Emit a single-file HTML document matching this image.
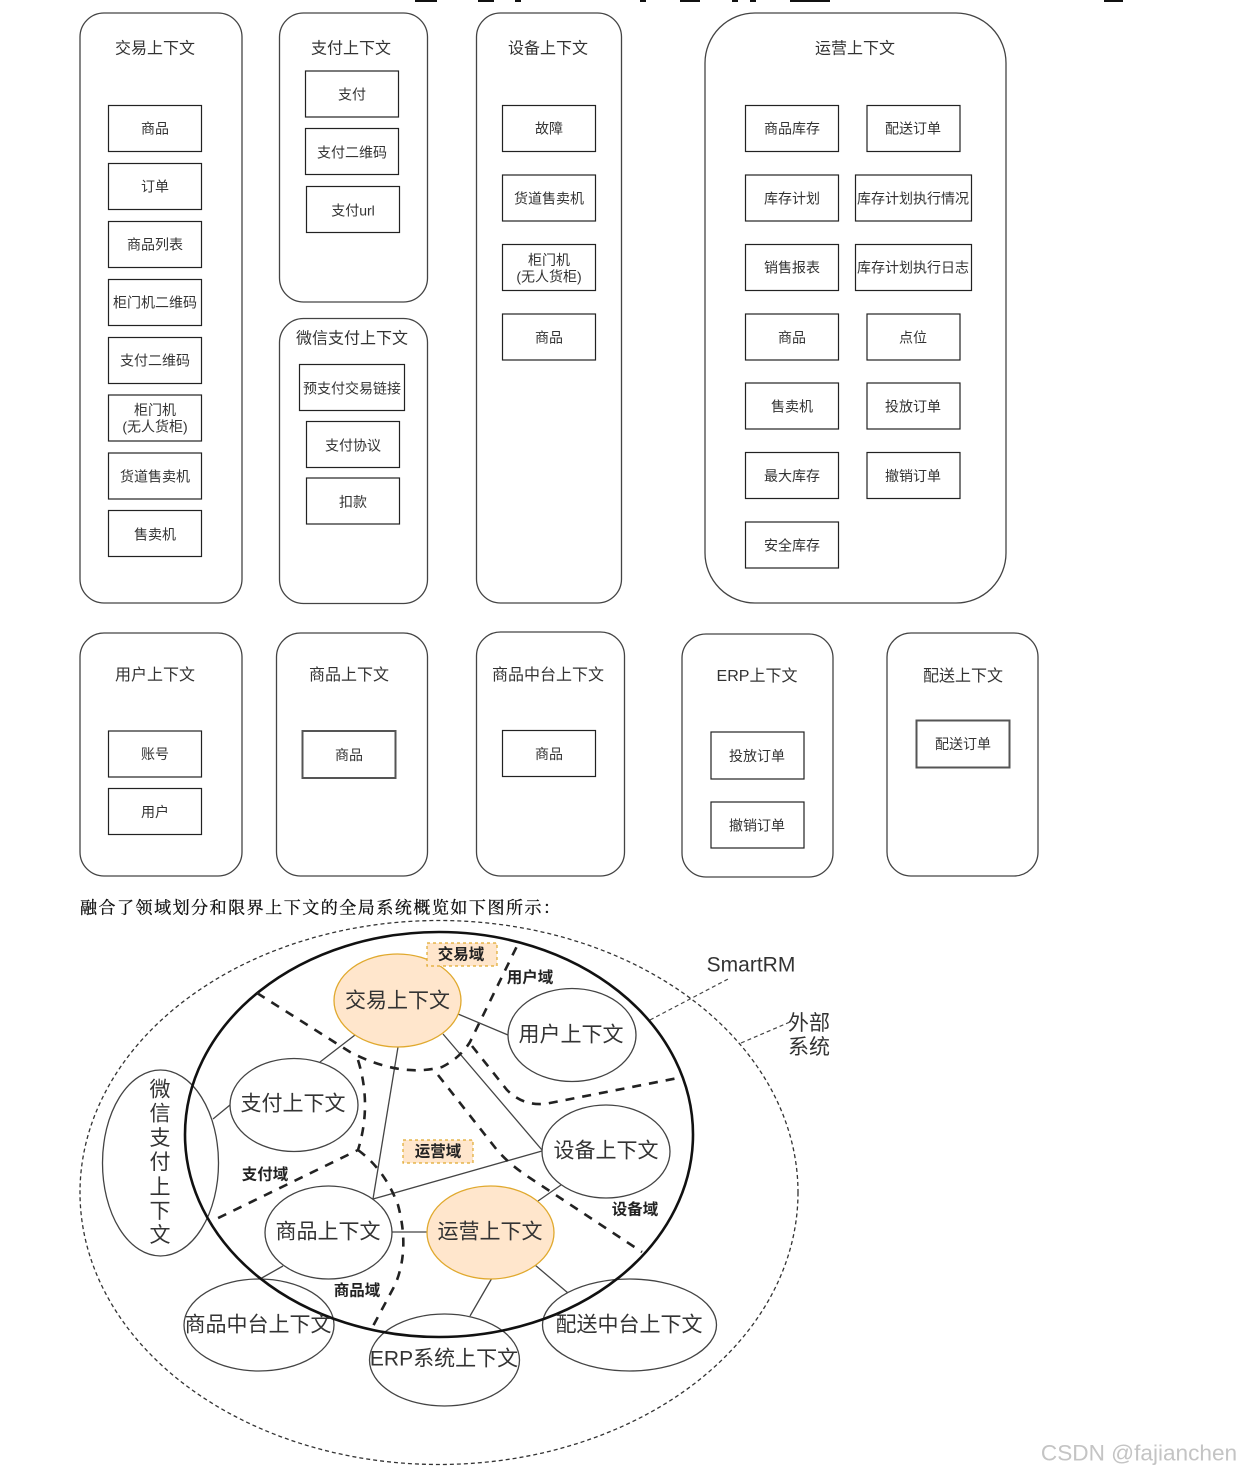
<!DOCTYPE html>
<html><head><meta charset="utf-8"><style>
html,body{margin:0;padding:0;background:#fff}
svg{display:block;filter:blur(0.3px)}
text{font-family:"Liberation Sans","Noto Sans CJK SC",sans-serif;text-anchor:middle;dominant-baseline:central;fill:#333}
.c{fill:none;stroke:#444;stroke-width:1.3}
.b{fill:none;stroke:#222;stroke-width:1.2}
.b2{fill:none;stroke:#555;stroke-width:2}
.t{font-size:16px}
.s{font-size:14px}
.e{fill:none;stroke:#444;stroke-width:1.3}
.o{fill:#ffe6cc;stroke:#e0a92e;stroke-width:1.3}
.l{stroke:#444;stroke-width:1.3;fill:none}
.d{stroke:#222;stroke-width:2.6;stroke-dasharray:9 8;fill:none}
.big{font-size:21px}
.lb{font-size:15.5px;font-weight:bold;fill:#222}
.y{fill:#ffe6cc;stroke:#e0a92e;stroke-width:1.2;stroke-dasharray:3 3}
</style></head><body>
<svg width="1240" height="1472" viewBox="0 0 1240 1472" xmlns="http://www.w3.org/2000/svg">
<g fill="#111"><rect x="415" y="0" width="22" height="2"/><rect x="478" y="0" width="16" height="2"/><rect x="515" y="0" width="6" height="2"/><rect x="640" y="0" width="6" height="2"/><rect x="680" y="0" width="20" height="2"/><rect x="732" y="0" width="6" height="2"/><rect x="750" y="0" width="6" height="2"/><rect x="790" y="0" width="40" height="2"/><rect x="1104" y="0" width="19" height="2"/></g>

<!-- row 1 -->
<rect class="c" x="80" y="13" width="162" height="590" rx="24"/>
<text class="t" x="155" y="49">交易上下文</text>
<g class="b">
<rect x="108.5" y="105.5" width="93" height="46"/><rect x="108.5" y="163.5" width="93" height="46"/><rect x="108.5" y="221.5" width="93" height="46"/><rect x="108.5" y="279.5" width="93" height="46"/><rect x="108.5" y="337.5" width="93" height="46"/><rect x="108.5" y="395" width="93" height="46"/><rect x="108.5" y="453" width="93" height="46"/><rect x="108.5" y="510.5" width="93" height="46"/>
</g>
<g class="s">
<text x="155" y="128.5">商品</text><text x="155" y="186.5">订单</text><text x="155" y="244.5">商品列表</text><text x="155" y="302.5">柜门机二维码</text><text x="155" y="360.5">支付二维码</text><text x="155" y="410">柜门机</text><text x="155" y="426.5">(无人货柜)</text><text x="155" y="476.5">货道售卖机</text><text x="155" y="534.5">售卖机</text>
</g>

<rect class="c" x="279.5" y="13" width="148" height="289" rx="24"/>
<text class="t" x="351" y="49">支付上下文</text>
<g class="b"><rect x="305.5" y="71" width="93" height="46"/><rect x="305.5" y="128.5" width="93" height="46"/><rect x="306.5" y="186.5" width="93" height="46"/></g>
<g class="s"><text x="352" y="94.5">支付</text><text x="352" y="152.5">支付二维码</text><text x="353" y="210.5">支付url</text></g>

<rect class="c" x="279.5" y="318.5" width="148" height="285" rx="24"/>
<text class="t" x="352" y="339">微信支付上下文</text>
<g class="b"><rect x="299.5" y="364.5" width="105" height="46"/><rect x="306.5" y="421.5" width="93" height="46"/><rect x="306.5" y="478" width="93" height="46"/></g>
<g class="s"><text x="352" y="388.5">预支付交易链接</text><text x="353" y="445.5">支付协议</text><text x="353" y="502">扣款</text></g>

<rect class="c" x="476.5" y="13" width="145" height="590" rx="24"/>
<text class="t" x="548" y="49">设备上下文</text>
<g class="b"><rect x="502.5" y="105.5" width="93" height="46"/><rect x="502.5" y="175" width="93" height="46"/><rect x="502.5" y="244.5" width="93" height="46"/><rect x="502.5" y="314" width="93" height="46"/></g>
<g class="s"><text x="549" y="128.5">故障</text><text x="549" y="198.5">货道售卖机</text><text x="549" y="260">柜门机</text><text x="549" y="276.5">(无人货柜)</text><text x="549" y="337.5">商品</text></g>

<rect class="c" x="705" y="13" width="301" height="590" rx="50"/>
<text class="t" x="855" y="49">运营上下文</text>
<g class="b">
<rect x="745.5" y="105.5" width="93" height="46"/><rect x="745.5" y="175" width="93" height="46"/><rect x="745.5" y="244.5" width="93" height="46"/><rect x="745.5" y="314" width="93" height="46"/><rect x="745.5" y="383" width="93" height="46"/><rect x="745.5" y="452.5" width="93" height="46"/><rect x="745.5" y="522" width="93" height="46"/>
<rect x="867" y="105.5" width="93" height="46"/><rect x="855.5" y="175" width="116" height="46"/><rect x="855.5" y="244.5" width="116" height="46"/><rect x="867" y="314" width="93" height="46"/><rect x="867" y="383" width="93" height="46"/><rect x="867" y="452.5" width="93" height="46"/>
</g>
<g class="s">
<text x="792" y="128.5">商品库存</text><text x="792" y="198.5">库存计划</text><text x="792" y="267.5">销售报表</text><text x="792" y="337.5">商品</text><text x="792" y="406.5">售卖机</text><text x="792" y="476">最大库存</text><text x="792" y="545.5">安全库存</text>
<text x="913" y="128.5">配送订单</text><text x="913" y="198.5">库存计划执行情况</text><text x="913" y="267.5">库存计划执行日志</text><text x="913" y="337.5">点位</text><text x="913" y="406.5">投放订单</text><text x="913" y="476">撤销订单</text>
</g>

<!-- row 2 -->
<rect class="c" x="80" y="633" width="162" height="243" rx="24"/>
<text class="t" x="155" y="675.5">用户上下文</text>
<g class="b"><rect x="108.5" y="731" width="93" height="46"/><rect x="108.5" y="788.5" width="93" height="46"/></g>
<g class="s"><text x="155" y="754">账号</text><text x="155" y="812">用户</text></g>

<rect class="c" x="276.5" y="633" width="151" height="243" rx="24"/>
<text class="t" x="349" y="675.5">商品上下文</text>
<rect class="b2" x="302.5" y="731" width="93" height="47"/>
<text class="s" x="349" y="755">商品</text>

<rect class="c" x="476.5" y="632" width="148" height="244" rx="24"/>
<text class="t" x="548" y="675.5">商品中台上下文</text>
<rect class="b" x="502.5" y="730.5" width="93" height="46"/>
<text class="s" x="549" y="754">商品</text>

<rect class="c" x="682" y="634" width="151" height="243" rx="24"/>
<text class="t" x="757" y="676.5">ERP上下文</text>
<g class="b"><rect x="711" y="732" width="93" height="47"/><rect x="711" y="802" width="93" height="46"/></g>
<g class="s"><text x="757" y="756">投放订单</text><text x="757" y="825.5">撤销订单</text></g>

<rect class="c" x="887" y="633" width="151" height="243" rx="24"/>
<text class="t" x="963" y="676.5">配送上下文</text>
<rect class="b2" x="916.5" y="720.5" width="93" height="47"/>
<text class="s" x="963" y="744">配送订单</text>

<text x="80" y="908" style="text-anchor:start;font-family:'Liberation Serif','Noto Serif CJK SC',serif;font-size:17px;letter-spacing:1.52px;fill:#111;stroke:#111;stroke-width:.3">融合了领域划分和限界上下文的全局系统概览如下图所示：</text>

<!-- overview -->
<ellipse cx="439" cy="1192.5" rx="359" ry="272" fill="none" stroke="#333" stroke-width="1.3" stroke-dasharray="4 3"/>
<g class="l">
<line x1="320" y1="1062" x2="355" y2="1035"/><line x1="213" y1="1119" x2="230" y2="1105"/><line x1="458" y1="1014" x2="508" y2="1035"/><line x1="443" y1="1034" x2="542" y2="1150"/><line x1="398" y1="1047" x2="373" y2="1199"/><line x1="373" y1="1199" x2="542" y2="1151"/><line x1="392" y1="1232" x2="427" y2="1232"/><line x1="561" y1="1185" x2="538" y2="1201"/><line x1="283" y1="1266" x2="260" y2="1279"/><line x1="492" y1="1278" x2="470" y2="1316"/><line x1="535" y1="1265" x2="568" y2="1293"/>
</g>
<g fill="none" stroke="#444" stroke-width="1.2" stroke-dasharray="4 3"><line x1="650" y1="1020" x2="730" y2="978"/><line x1="741" y1="1043" x2="790" y2="1022"/></g>
<ellipse class="o" cx="397.5" cy="1000.5" rx="63.5" ry="46.5"/>
<ellipse class="o" cx="490.5" cy="1232.5" rx="63.5" ry="46.5"/>
<g class="e">
<ellipse cx="572" cy="1035" rx="64" ry="46.5"/><ellipse cx="294" cy="1105" rx="64" ry="46.5"/><ellipse cx="606" cy="1151.5" rx="64" ry="46.5"/><ellipse cx="160.5" cy="1163" rx="58" ry="93"/><ellipse cx="328.5" cy="1232.5" rx="63.5" ry="46.5"/><ellipse cx="259" cy="1325" rx="75" ry="46"/><ellipse cx="444.5" cy="1360" rx="75" ry="46"/><ellipse cx="629.5" cy="1325" rx="87" ry="46"/>
</g>
<ellipse cx="439" cy="1134.5" rx="254" ry="202.5" fill="none" stroke="#111" stroke-width="2.6"/>
<g class="d">
<path d="M257 993 L350 1052 Q400 1078 442 1067 Q460 1058 470 1042 L518 944"/>
<path d="M472 1046 L507 1090 Q525 1108 550 1103 L678 1078"/>
<path d="M438 1075 L497 1150 Q510 1165 530 1178 L642 1252"/>
<path d="M358 1060 Q372 1105 358 1150 L210 1222"/>
<path d="M358 1150 Q385 1170 398 1205 Q410 1250 395 1285 L372 1328"/>
</g>
<rect class="y" x="427" y="943" width="70" height="23"/>
<rect class="y" x="403" y="1140" width="70" height="23"/>
<g class="lb"><text class="lb" x="461" y="955">交易域</text><text class="lb" x="438" y="1152">运营域</text><text class="lb" x="530" y="978">用户域</text><text class="lb" x="265" y="1175">支付域</text><text class="lb" x="635" y="1210">设备域</text><text class="lb" x="357" y="1291">商品域</text></g>
<g class="big">
<text class="big" x="397.5" y="1001">交易上下文</text><text class="big" x="571" y="1035">用户上下文</text><text class="big" x="293" y="1104">支付上下文</text><text class="big" x="606" y="1151">设备上下文</text><text class="big" x="328" y="1232">商品上下文</text><text class="big" x="490" y="1232">运营上下文</text><text class="big" x="258" y="1325">商品中台上下文</text><text class="big" x="444" y="1359">ERP系统上下文</text><text class="big" x="629" y="1325">配送中台上下文</text>
<text class="big" x="160" y="1090">微</text><text class="big" x="160" y="1114">信</text><text class="big" x="160" y="1138.5">支</text><text class="big" x="160" y="1162.5">付</text><text class="big" x="160" y="1187.5">上</text><text class="big" x="160" y="1211.5">下</text><text class="big" x="160" y="1235.5">文</text>
<text class="big" x="751" y="965">SmartRM</text><text class="big" x="809" y="1023.5">外部</text><text class="big" x="809" y="1047.5">系统</text>
</g>
<text x="1139" y="1453" style="font-size:22.6px;fill:#c4c4c4">CSDN @fajianchen</text>
</svg>
</body></html>
